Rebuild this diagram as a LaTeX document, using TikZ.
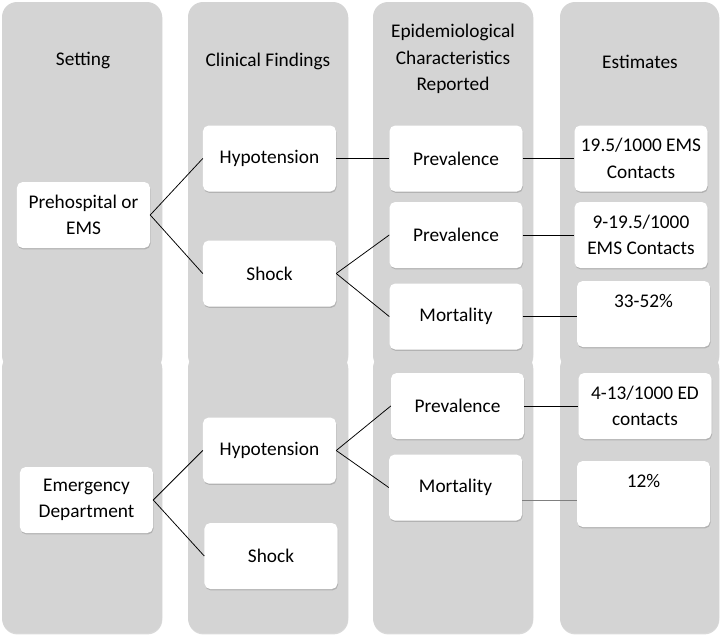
\documentclass[tikz,border=0pt]{standalone}
\usepackage{fontspec}
\setmainfont{Carlito}
\usepackage{xcolor}
\usepackage{tikz}
\usetikzlibrary{positioning,shadows}
\definecolor{panelgray}{RGB}{212,212,212}

\begin{document}
\begin{tikzpicture}[x=0.03cm, y=-0.03cm, font=\fontsize{16.5}{22.5}\selectfont,
  panel/.style={fill=panelgray, rounded corners=0.45cm,
    drop shadow={shadow xshift=0.3pt, shadow yshift=-1.2pt, opacity=0.3}},
  card/.style={fill=white, rounded corners=0.17cm, align=center, inner sep=1pt,
    minimum width=3.99cm, minimum height=1.98cm,
    drop shadow={shadow xshift=0.5pt, shadow yshift=-1.2pt, opacity=0.4}},
  link/.style={draw=black, line width=0.65pt}]
  \useasboundingbox (0,0) rectangle (723,641);

  % grey columns, upper and lower band
  \path[panel] (2,2) rectangle (162,370);
  \path[panel] (188,2) rectangle (348,370);
  \path[panel] (373,2) rectangle (533,370);
  \path[panel] (560,2) rectangle (719,370);
  \path[panel] (2,353) rectangle (162,633);
  \path[panel] (188,353) rectangle (348,633);
  \path[panel] (373,353) rectangle (533,633);
  \path[panel] (560,353) rectangle (719,633);

  % column headers
  \node (hSet) at (83,60) {Setting};
  \node (hClin) at (268,61) {Clinical Findings};
  \node[align=center] (hEpi) at (453,59) {Epidemiological\\Characteristics\\Reported};
  \node (hEst) at (640,62) {Estimates};

  % prehospital band
  \node[card] (pre) at (83.5,215) {Prehospital or\\EMS};
  \node[card] (hypA) at (269.5,158.5) {Hypotension};
  \node[card] (shockA) at (269.5,273.5) {Shock};
  \node[card] (prevA) at (456,158.5) {Prevalence};
  \node[card] (prevA2) at (456,235) {Prevalence};
  \node[card] (mortA) at (456,316.5) {Mortality};
  \node[card] (estA1) at (641,158.5) {19.5/1000 EMS\\Contacts};
  \node[card] (estA2) at (641,235) {9-19.5/1000\\EMS Contacts};
  \node[card] (estA3) at (643.5,314) {33-52\%\\\phantom{0}};

  % emergency department band
  \node[card] (ed) at (86.5,500) {Emergency\\Department};
  \node[card] (hypB) at (269.5,450.5) {Hypotension};
  \node[card] (shockB) at (271,556) {Shock};
  \node[card] (prevB) at (457.5,406) {Prevalence};
  \node[card] (mortB) at (455.5,487.5) {Mortality};
  \node[card] (estB1) at (645,406) {4-13/1000 ED\\contacts};
  \node[card] (estB2) at (643.5,494) {12\%\\\phantom{0}};

  \draw[link] (pre.east) -- (hypA.west);
  \draw[link] (pre.east) -- (shockA.west);
  \draw[link] (hypA.east) -- (prevA.west);
  \draw[link] (shockA.east) -- (prevA2.west);
  \draw[link] (shockA.east) -- (mortA.west);
  \draw[link] (prevA.east) -- (estA1.west);
  \draw[link] (prevA2.east) -- (estA2.west);
  \draw[link] (mortA.east) -- (mortA.east -| estA3.west);

  \draw[link] (ed.east) -- (hypB.west);
  \draw[link] (ed.east) -- (shockB.west);
  \draw[link] (hypB.east) -- (prevB.west);
  \draw[link] (hypB.east) -- (mortB.west);
  \draw[link] (prevB.east) -- (estB1.west);
  \coordinate (mB) at ([yshift=-0.375cm]mortB.east);
  \draw[link, draw=black!50] (mB) -- (mB -| estB2.west);
\end{tikzpicture}
\end{document}
